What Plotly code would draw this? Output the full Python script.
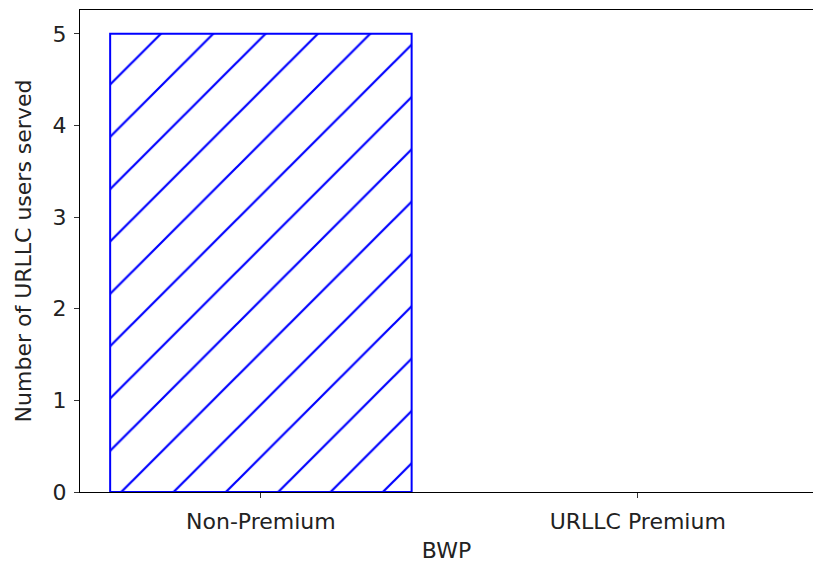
import plotly.graph_objects as go

categories = ["Non-Premium", "URLLC Premium"]
users_served = [5, 0]

fig = go.Figure()
fig.add_trace(go.Bar(
    x=[0, 1],
    y=users_served,
    width=0.8,
    marker=dict(
        color="white",
        line=dict(color="blue", width=[2, 0]),
        pattern=dict(shape="/", fgcolor="blue", bgcolor="white", fgopacity=1,
                     size=37, solidity=0.06),
    ),
))

font = dict(family="DejaVu Sans", size=22, color="black")
tfont = dict(family="DejaVu Sans", size=22, color="#222222")
fig.update_layout(
    width=813, height=563,
    margin=dict(l=80, r=0, t=10, b=71),
    plot_bgcolor="white", paper_bgcolor="white",
    showlegend=False,
    font=font,
)
fig.update_xaxes(
    range=[-0.48, 1.465],
    tickvals=[0, 1], ticktext=categories,
    showline=True, linecolor="black", linewidth=1.2, mirror=True,
    ticks="outside", ticklen=5, tickcolor="#333333", tickwidth=1,
    ticklabelstandoff=4,
    showgrid=False, zeroline=False, automargin=False,
    title=dict(text="BWP", font=tfont, standoff=10),
    tickfont=tfont,
)
fig.update_yaxes(
    range=[0, 5.26],
    tickvals=[0, 1, 2, 3, 4, 5],
    showline=True, linecolor="black", linewidth=1.2, mirror=False,
    ticks="outside", ticklen=5, tickcolor="#333333", tickwidth=1,
    ticklabelstandoff=3,
    showgrid=False, zeroline=False, automargin=False,
    title=dict(text="Number of URLLC users served", font=tfont, standoff=14),
    tickfont=tfont,
)

fig.write_html("out.html", config={"displayModeBar": False},
               post_script="document.body.style.margin='0';")
